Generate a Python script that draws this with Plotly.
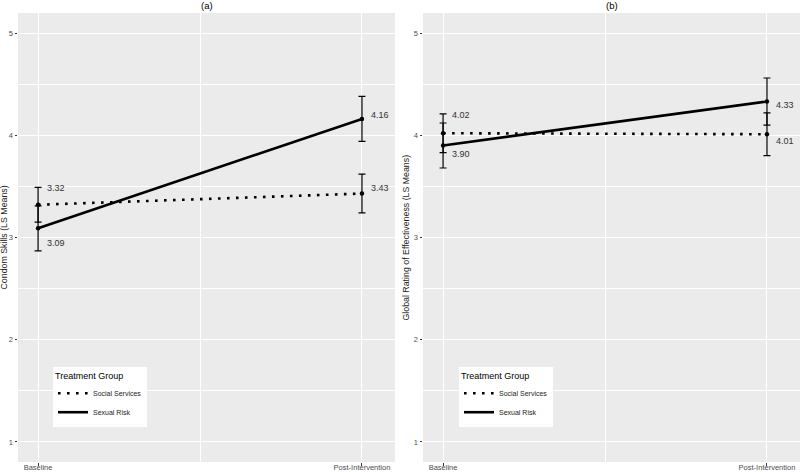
import plotly.graph_objects as go

# ---- data ----
timepoints = ["Baseline", "Post-Intervention"]
groups = ["Social Services", "Sexual Risk"]

a_social = [3.32, 3.43]
a_social_err = [0.17, 0.19]
a_sexual = [3.09, 4.16]
a_sexual_err = [0.22, 0.22]

b_social = [4.02, 4.01]
b_social_err = [0.19, 0.21]
b_sexual = [3.90, 4.33]
b_sexual_err = [0.22, 0.23]

panel_titles = ["(a)", "(b)"]
y_titles = ["Condom Skills (LS Means)", "Global Rating of Effectiveness (LS Means)"]
y_ticks = [1, 2, 3, 4, 5]

W, H = 800, 472
FONT = "Liberation Sans, Arial, Helvetica, sans-serif"

fig = go.Figure()

styles = {
    "Social Services": dict(color="black", width=2.6, dash="2.6px,6.4px"),
    "Sexual Risk": dict(color="black", width=2.6, dash="solid"),
}

# label offsets (pixels) per panel, group, timepoint
label_shift = {
    ("a", "Social Services"): [(7, 17), (7, 6)],
    ("a", "Sexual Risk"): [(7, -15), (7, 4)],
    ("b", "Social Services"): [(7, 18), (7, -7)],
    ("b", "Sexual Risk"): [(7, -9), (7, -3)],
}

panels = [
    ("a", "x", "y", "legend", {"Social Services": (a_social, a_social_err), "Sexual Risk": (a_sexual, a_sexual_err)}),
    ("b", "x2", "y2", "legend2", {"Social Services": (b_social, b_social_err), "Sexual Risk": (b_sexual, b_sexual_err)}),
]

xs = list(range(len(timepoints)))
annotations = []
for key, xa, ya, leg, data in panels:
    for g in groups:
        vals, errs = data[g]
        # line (shown in legend)
        fig.add_trace(go.Scatter(
            x=xs, y=vals, xaxis=xa, yaxis=ya, name=g, legend=leg,
            mode="lines", line=styles[g], showlegend=True, hoverinfo="skip",
        ))
        # points with error bars
        fig.add_trace(go.Scatter(
            x=xs, y=vals, xaxis=xa, yaxis=ya, name=g, legend=leg,
            mode="markers",
            marker=dict(size=4.5, color="black"),
            error_y=dict(type="data", array=errs, visible=True, color="black",
                         thickness=1.2, width=3.5),
            showlegend=False,
        ))
        for i, v in enumerate(vals):
            dx, dy = label_shift[(key, g)][i]
            annotations.append(dict(
                x=xs[i], y=v, xref=xa, yref=ya, text=f"{v:.2f}",
                showarrow=False, xanchor="left", yanchor="middle",
                xshift=dx, yshift=dy,
                font=dict(family=FONT, size=9, color="#333333"),
            ))

# geometry (pixels)
ytop, ybot = 13, 462
xdoms = [(18, 395), (423, 800)]

axis_common = dict(
    showline=False, zeroline=False,
    ticks="outside", ticklen=2.5, tickwidth=1, tickcolor="#333333",
    tickfont=dict(family=FONT, size=7.5, color="#4D4D4D"),
    gridcolor="white", gridwidth=1.2,
    automargin=False,
)

for i, (x0, x1) in enumerate(xdoms):
    sx = "" if i == 0 else "2"
    fig.update_layout(**{
        f"xaxis{sx}": dict(
            axis_common,
            domain=[x0 / W, x1 / W], anchor=f"y{sx}",
            range=[-0.062, 1.102],
            tickvals=xs, ticktext=timepoints,
            ticklabelstandoff=-5,
            minor=dict(showgrid=True, gridcolor="white", gridwidth=0.6, ticks="",
                       tick0=0, dtick=0.5),
        ),
        f"yaxis{sx}": dict(
            axis_common,
            domain=[(H - ybot) / H, (H - ytop) / H], anchor=f"x{sx}",
            range=[0.804, 5.196],
            tickvals=y_ticks,
            minor=dict(showgrid=True, gridcolor="white", gridwidth=0.6, ticks="",
                       tick0=0, dtick=0.5),
        ),
    })

# panel titles
for (x0, x1), t in zip(xdoms, panel_titles):
    annotations.append(dict(
        x=(x0 + x1) / 2 / W, y=(H - 6) / H, xref="paper", yref="paper",
        text=t, showarrow=False, xanchor="center", yanchor="middle",
        font=dict(family=FONT, size=9.5, color="black"),
    ))

# y-axis titles
for xp, t in zip([4, 406], y_titles):
    annotations.append(dict(
        x=xp / W, y=(H - (ytop + ybot) / 2) / H, xref="paper", yref="paper",
        text=t, textangle=-90, showarrow=False, xanchor="center", yanchor="middle",
        font=dict(family=FONT, size=8.8, color="#1a1a1a"),
    ))

legend_common = dict(
    bgcolor="white", borderwidth=0,
    font=dict(family=FONT, size=7, color="#222222"),
    title=dict(text="Treatment Group", font=dict(family=FONT, size=9, color="black")),
    xanchor="left", yanchor="top", itemwidth=30, tracegroupgap=0,
)

fig.update_layout(
    width=W, height=H,
    margin=dict(l=0, r=0, t=0, b=0),
    paper_bgcolor="white",
    plot_bgcolor="#EBEBEB",
    annotations=annotations,
    showlegend=True,
    legend=dict(legend_common, x=53 / W, y=(H - 367) / H),
    legend2=dict(legend_common, x=459 / W, y=(H - 367) / H),
)

fig.write_html("out.html", config={"displayModeBar": False},
               post_script="document.body.style.margin='0';")
